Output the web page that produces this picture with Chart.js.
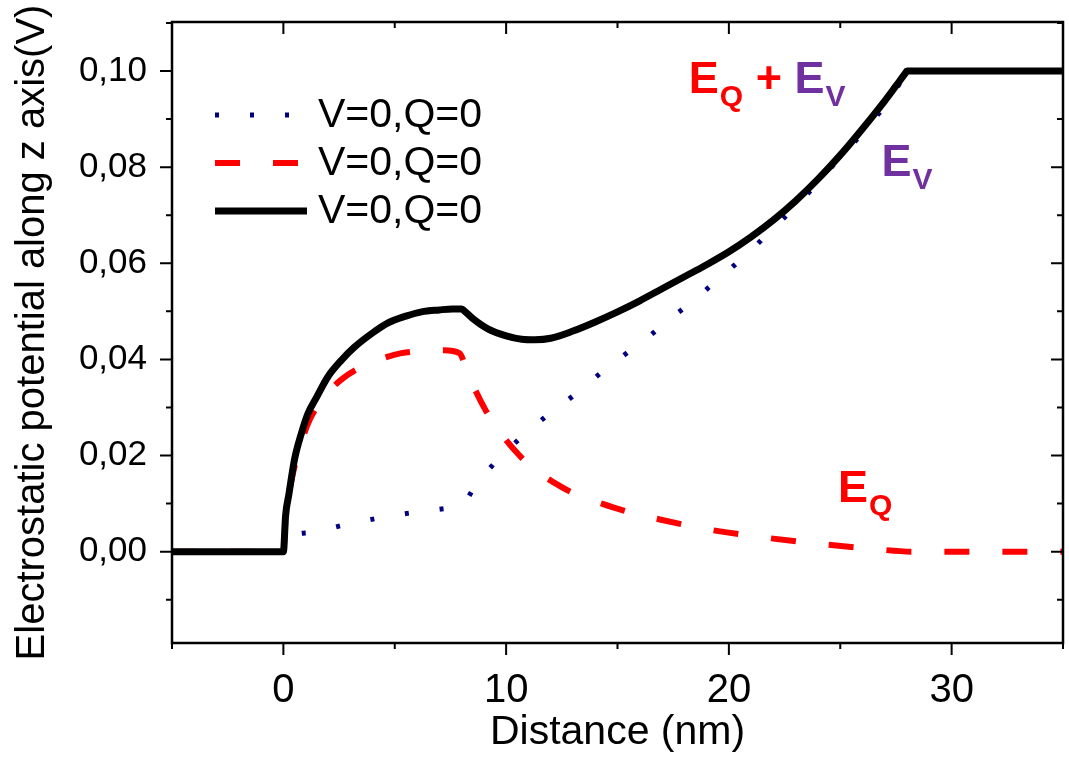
<!DOCTYPE html>
<html>
<head>
<meta charset="utf-8">
<script src="https://cdn.jsdelivr.net/npm/chart.js@4.4.0/dist/chart.umd.min.js"></script>
<style>
  html, body { margin: 0; padding: 0; background: #fff; }
  #wrap { width: 1069px; height: 757px; }
</style>
</head>
<body>
<div id="wrap"><canvas id="graficoPotencial" width="1069" height="757"></canvas></div>
<script>
// E_V (azul punteado)
const xV = [-5, 0, 0.3, 1.2, 2.77, 4.4, 5.9, 7.5, 8.0, 8.7, 9.9, 10.8, 11.7, 12.7, 13.6, 14.5, 15.5, 16.5, 17.4, 18.4, 19.3, 20.2, 21.1, 22.0, 22.9, 23.7, 24.5, 25.4, 26.2, 27.35, 27.9, 28, 35];
const yV = [0, 0, 0.003, 0.004, 0.0056, 0.0071, 0.0082, 0.0091, 0.0096, 0.0143, 0.0204, 0.0243, 0.0278, 0.0313, 0.0347, 0.0381, 0.0416, 0.0451, 0.0486, 0.0522, 0.0558, 0.0594, 0.0632, 0.0673, 0.0714, 0.0753, 0.0795, 0.084, 0.0882, 0.095, 0.0993, 0.100, 0.100];

// E_Q (rojo discontinuo)
const xQ = [-5, 0, 0.1, 0.37, 0.7, 1.12, 1.8, 2.6, 3.67, 4.5, 5.3, 6.3, 7.2, 7.9, 8.3, 9.07, 9.7, 10.6, 11.3, 12.4, 13.1, 14.3, 15.1, 16.9, 19.1, 21.5, 23.9, 26.4, 28.3, 35];
const yQ = [0, 0, 0.007, 0.015, 0.021, 0.0268, 0.032, 0.0358, 0.0388, 0.0403, 0.0413, 0.0418, 0.0419, 0.0413, 0.0368, 0.0295, 0.025, 0.02, 0.017, 0.0137, 0.012, 0.01, 0.0088, 0.0067, 0.0046, 0.003, 0.0017, 0.0006, 0, 0];

// E_Q + E_V (negro continuo)
const xT = [-5, 0, 0.1, 0.25, 0.5, 0.8, 1.1, 1.5, 2, 2.6, 3.2, 4, 4.7, 5.5, 6.2, 7, 7.6, 8, 8.1, 8.5, 9.2, 10, 10.7, 11.3, 12, 13, 14, 15, 16, 17, 18, 19, 20, 21, 22, 23, 24, 25, 26, 27, 27.5, 27.9, 28, 35];
const yT = [0, 0, 0.0075, 0.012, 0.0192, 0.0245, 0.0287, 0.0322, 0.0364, 0.0398, 0.0426, 0.0455, 0.0476, 0.049, 0.0499, 0.0503, 0.0505, 0.0505, 0.0502, 0.0485, 0.0463, 0.0449, 0.0442, 0.0441, 0.0444, 0.0459, 0.0478, 0.0499, 0.0522, 0.0547, 0.0572, 0.0597, 0.0624, 0.0655, 0.069, 0.073, 0.0775, 0.0825, 0.088, 0.0938, 0.0969, 0.0994, 0.100, 0.100];

const xTickValues = [0, 10, 20, 30];
const yTickValues = [0, 0.02, 0.04, 0.06, 0.08, 0.10];
const etiquetasLeyenda = ['V=0,Q=0', 'V=0,Q=0', 'V=0,Q=0'];

// anotaciones: partes [texto, subindice, color], luego x (nm), y (V)
const anotaciones = [
  [['E', 'Q', '#ff0000'], [' + ', '', '#ff0000'], ['E', 'V', '#7030a0'], 18.2, 0.0955],
  [['E', 'V', '#7030a0'], 26.85, 0.0782],
  [['E', 'Q', '#ff0000'], 24.9, 0.0104]
];

const FUENTE = '"Liberation Sans", Arial, sans-serif';

function puntos(xs, ys) {
  return xs.map(function (x, i) { return { x: x, y: ys[i] }; });
}

// marco con ticks mayores y menores
const marcoPlugin = {
  id: 'marco',
  afterDraw: function (chart) {
    const ctx = chart.ctx;
    const a = chart.chartArea;
    const sx = chart.scales.x, sy = chart.scales.y;
    ctx.save();
    ctx.strokeStyle = '#000';
    ctx.lineWidth = 2.5;
    ctx.setLineDash([]);
    ctx.strokeRect(a.left, a.top, a.right - a.left, a.bottom - a.top);
    ctx.lineWidth = 2;
    for (let v = -5; v <= 35; v += 5) {
      const px = sx.getPixelForValue(v);
      const len = (v % 10 === 0) ? 12 : 6;
      ctx.beginPath();
      ctx.moveTo(px, a.bottom); ctx.lineTo(px, a.bottom + len);
      ctx.moveTo(px, a.top); ctx.lineTo(px, a.top + len);
      ctx.stroke();
    }
    for (let k = -1; k <= 11; k++) {
      const v = k / 100;
      const py = sy.getPixelForValue(v);
      if (py < a.top - 1 || py > a.bottom + 1) continue;
      const len = (k % 2 === 0) ? 12 : 6;
      ctx.beginPath();
      ctx.moveTo(a.left, py); ctx.lineTo(a.left - len, py);
      ctx.moveTo(a.right, py); ctx.lineTo(a.right - len, py);
      ctx.stroke();
    }
    ctx.restore();
  }
};

// leyenda y etiquetas E_Q, E_V
const textosPlugin = {
  id: 'textos',
  afterDraw: function (chart) {
    const ctx = chart.ctx;
    const a = chart.chartArea;
    ctx.save();
    // leyenda (orden: azul, rojo, negro)
    const orden = [2, 1, 0];
    orden.forEach(function (idx, fila) {
      const ds = chart.data.datasets[idx];
      const y = a.top + 93 + fila * 48;
      ctx.beginPath();
      ctx.strokeStyle = ds.borderColor;
      ctx.lineWidth = ds.borderWidth;
      ctx.lineCap = 'butt';
      ctx.setLineDash(ds.borderDash || []);
      ctx.moveTo(a.left + 43, y);
      ctx.lineTo(a.left + 135, y);
      ctx.stroke();
      ctx.setLineDash([]);
      ctx.fillStyle = '#000';
      ctx.font = '41px ' + FUENTE;
      ctx.textBaseline = 'middle';
      ctx.textAlign = 'left';
      ctx.fillText(etiquetasLeyenda[fila], a.left + 146, y + 1);
    });
    // anotaciones
    const sx = chart.scales.x, sy = chart.scales.y;
    ctx.textBaseline = 'alphabetic';
    anotaciones.forEach(function (an) {
      const partes = an.slice(0, an.length - 2);
      let x = sx.getPixelForValue(an[an.length - 2]);
      const y = sy.getPixelForValue(an[an.length - 1]);
      partes.forEach(function (p) {
        ctx.fillStyle = p[2];
        ctx.font = 'bold 45px ' + FUENTE;
        ctx.fillText(p[0], x, y);
        x += ctx.measureText(p[0]).width;
        if (p[1]) {
          ctx.font = 'bold 30px ' + FUENTE;
          ctx.fillText(p[1], x + 1, y + 13);
          x += ctx.measureText(p[1]).width + 1;
        }
      });
    });
    ctx.restore();
  }
};

const ctx = document.getElementById('graficoPotencial');
new Chart(ctx, {
  type: 'line',
  data: {
    datasets: [{
      label: 'V=0,Q=0',
      data: puntos(xT, yT),
      borderColor: '#000000',
      borderWidth: 7,
      order: 0
    }, {
      label: 'V=0,Q=0',
      data: puntos(xQ, yQ),
      borderColor: '#ff0000',
      borderWidth: 6,
      borderDash: [25, 33],
      order: 1
    }, {
      label: 'V=0,Q=0',
      data: puntos(xV, yV),
      borderColor: '#000080',
      borderWidth: 5,
      borderDash: [4, 31],
      order: 2
    }]
  },
  options: {
    responsive: false,
    animation: false,
    devicePixelRatio: 1,
    layout: { padding: { top: 22, right: 6, left: 0, bottom: 0 } },
    elements: {
      point: { radius: 0 },
      line: { cubicInterpolationMode: 'monotone', borderCapStyle: 'butt', fill: false }
    },
    plugins: {
      legend: { display: false },
      tooltip: { enabled: false }
    },
    scales: {
      x: {
        type: 'linear',
        min: -5,
        max: 35,
        afterBuildTicks: function (s) { s.ticks = xTickValues.map(function (v) { return { value: v }; }); },
        afterFit: function (s) { s.height = 114; s.paddingLeft = 0; s.paddingRight = 0; },
        grid: { display: false, drawTicks: true, tickLength: 12 },
        border: { display: false },
        ticks: { color: '#000', padding: 12, maxRotation: 0, autoSkip: false, font: { family: FUENTE, size: 40 } },
        title: { display: true, text: 'Distance (nm)', color: '#000', padding: { top: 0, bottom: 0 }, font: { family: FUENTE, size: 41 } }
      },
      y: {
        type: 'linear',
        min: -0.019,
        max: 0.1102,
        afterBuildTicks: function (s) { s.ticks = yTickValues.map(function (v) { return { value: v }; }); },
        afterFit: function (s) { s.width = 172; s.paddingTop = 0; s.paddingBottom = 0; },
        grid: { display: false, drawTicks: true, tickLength: 12 },
        border: { display: false },
        ticks: {
          color: '#000', padding: 13, autoSkip: false, font: { family: FUENTE, size: 35 },
          callback: function (v) { return v.toFixed(2).replace('.', ','); }
        },
        title: { display: true, text: 'Electrostatic potential along z axis(V)', color: '#000', padding: { top: 9, bottom: 0 }, font: { family: FUENTE, size: 40 } }
      }
    }
  },
  plugins: [marcoPlugin, textosPlugin]
});
</script>
</body>
</html>
